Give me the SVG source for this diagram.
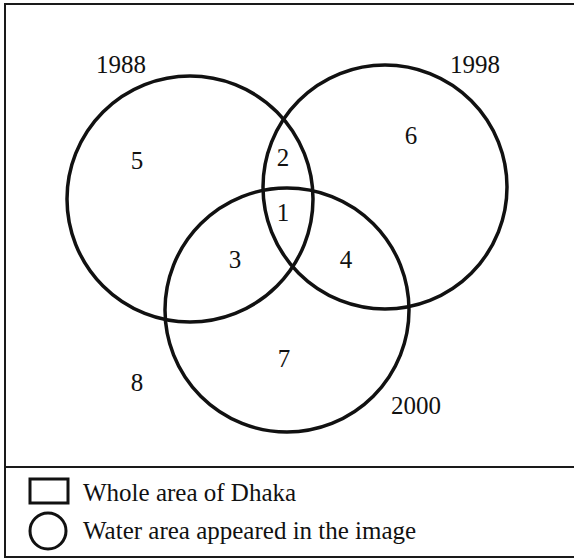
<svg xmlns="http://www.w3.org/2000/svg" width="574" height="559" viewBox="0 0 574 559">
<style>
.frame{fill:none;stroke:#1a1a1a;stroke-width:2}
.set{fill:none;stroke:#111;stroke-width:3.5}
.lg{fill:none;stroke:#111;stroke-width:3}
.c{text-anchor:middle}
</style>
<rect width="574" height="559" fill="#fff"/>
<g id="frame">
<path class="frame" d="M575,4 H5 V557 H575"/>
<line class="frame" x1="5" y1="467" x2="575" y2="467"/>
</g>
<g font-family="Liberation Serif, Times New Roman, Tinos, Nimbus Roman, FreeSerif, serif" font-size="25" fill="#111">
<g id="set1988">
<circle class="set" cx="190" cy="199" r="123"/>
<text x="96" y="73">1988</text>
</g>
<g id="set1998">
<circle class="set" cx="385" cy="187" r="122"/>
<text x="450" y="73">1998</text>
</g>
<g id="set2000">
<circle class="set" cx="287" cy="310" r="122"/>
<text x="391" y="414">2000</text>
</g>
<g id="regions">
<text class="c" x="137" y="169">5</text>
<text class="c" x="283" y="166">2</text>
<text class="c" x="283" y="221">1</text>
<text class="c" x="235" y="268">3</text>
<text class="c" x="411" y="144">6</text>
<text class="c" x="346" y="268">4</text>
<text class="c" x="284" y="367">7</text>
<text class="c" x="137" y="391">8</text>
</g>
<g id="legend">
<rect class="lg" x="30" y="479" width="38" height="24"/>
<text x="83" y="501">Whole area of Dhaka</text>
<circle class="lg" cx="48" cy="531" r="18"/>
<text x="83" y="539">Water area appeared in the image</text>
</g>
</g>
</svg>
